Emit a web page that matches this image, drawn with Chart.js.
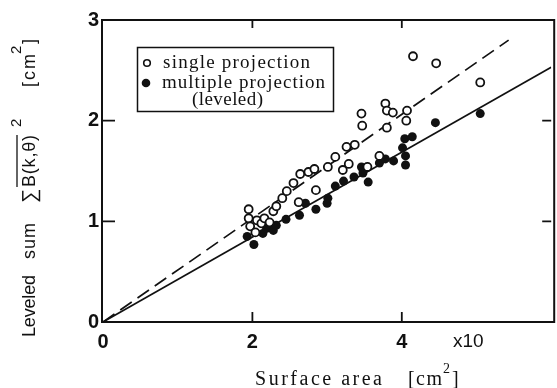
<!DOCTYPE html>
<html><head><meta charset="utf-8">
<script src="https://cdn.jsdelivr.net/npm/chart.js@4.4.1/dist/chart.umd.min.js"></script>
<style>html,body{margin:0;padding:0;background:#fff;overflow:hidden}#wrap{width:557px;height:388px}</style>
</head><body><div id="wrap"><canvas id="c" width="557" height="388"></canvas></div>
<script>
// ---- data ----
const singleX = [1.95,1.95,1.97,2.04,2.06,2.12,2.16,2.23,2.28,2.32,2.40,2.46,2.55,2.64,2.75,2.83,3.01,2.85,2.62,3.11,3.21,3.29,3.26,3.37,3.46,3.47,3.54,3.70,3.78,3.80,3.88,3.80,4.07,4.06,4.15,4.46,5.05];
const singleY = [1.12,1.03,0.95,0.89,1.01,0.98,1.03,0.99,1.10,1.15,1.23,1.30,1.38,1.47,1.49,1.52,1.54,1.31,1.19,1.64,1.51,1.57,1.74,1.76,2.07,1.95,1.54,1.65,2.17,2.10,2.08,1.93,2.10,2.00,2.64,2.57,2.38];
const multiX = [1.93,2.02,2.14,2.19,2.28,2.32,2.45,2.63,2.71,2.85,3.00,3.01,3.11,3.22,3.36,3.46,3.48,3.55,3.70,3.78,3.89,4.01,4.04,4.14,4.05,4.05,4.45,5.05];
const multiY = [0.85,0.77,0.88,0.93,0.91,0.96,1.02,1.06,1.18,1.12,1.18,1.23,1.35,1.40,1.44,1.54,1.48,1.39,1.58,1.62,1.60,1.73,1.82,1.84,1.65,1.56,1.98,2.07];
const singleFitX = [0, 5.43];
const singleFitY = [0, 2.80];
const multiFitX = [0, 6.0];
const multiFitY = [0, 2.53];
const xTicks = [0, 2, 4];
const yTicks = [0, 1, 2, 3];
const legendLabels = ['single projection', 'multiple projection', '(leveled)'];
const xTitle = 'Surface area';
const xUnit = '[cm';
const xMultiplier = 'x10';

const pts = (xs, ys) => xs.map((v, i) => ({x: v, y: ys[i]}));

const SERIF = "'Liberation Serif', 'DejaVu Serif', serif";
const SANS = "'Liberation Sans', Arial, sans-serif";

function fitText(ctx, text, x, y, width) {
  ctx.letterSpacing = '0px';
  const w = ctx.measureText(text).width;
  const n = text.length;
  const ls = n > 1 ? (width - w) / (n - 1) : 0;
  ctx.letterSpacing = ls + 'px';
  ctx.fillText(text, x, y);
  ctx.letterSpacing = '0px';
}

const decor = {
  id: 'decor',
  afterDraw(chart) {
    const {ctx, chartArea: a, scales: {x, y}} = chart;
    ctx.save();
    ctx.strokeStyle = '#111';
    ctx.fillStyle = '#111';
    // frame
    ctx.lineWidth = 2;
    ctx.strokeRect(a.left - 1, a.top, a.right - a.left + 4, a.bottom - a.top);
    // inward ticks
    ctx.lineWidth = 1.8;
    ctx.beginPath();
    xTicks.forEach(v => {
      if (v === 0) return;
      const px = x.getPixelForValue(v);
      ctx.moveTo(px, a.bottom); ctx.lineTo(px, a.bottom - 10);
      ctx.moveTo(px, a.top); ctx.lineTo(px, a.top + 8);
    });
    yTicks.forEach(v => {
      if (v === 0 || v === 3) return;
      const py = y.getPixelForValue(v);
      ctx.moveTo(a.left, py); ctx.lineTo(a.left + 12, py);
      ctx.moveTo(a.right, py); ctx.lineTo(a.right - 9, py);
    });
    ctx.stroke();

    // x multiplier
    ctx.font = '19px ' + SANS;
    ctx.textBaseline = 'alphabetic';
    ctx.textAlign = 'left';
    ctx.fillText(xMultiplier, 453, 347);

    // legend box
    ctx.lineWidth = 1.5;
    ctx.strokeRect(137.5, 47.5, 196, 64);
    ctx.beginPath();
    ctx.arc(147, 63, 3.3, 0, Math.PI * 2);
    ctx.lineWidth = 1.6;
    ctx.stroke();
    ctx.beginPath();
    ctx.arc(146, 83, 4.3, 0, Math.PI * 2);
    ctx.fill();
    ctx.font = '19px ' + SERIF;
    fitText(ctx, legendLabels[0], 163, 68, 147);
    fitText(ctx, legendLabels[1], 162, 88, 163);
    fitText(ctx, legendLabels[2], 192, 105, 71);

    // x axis title
    ctx.font = '20px ' + SERIF;
    fitText(ctx, xTitle, 255, 385, 127);
    fitText(ctx, xUnit, 408, 385, 34);
    ctx.font = '14px ' + SERIF;
    ctx.fillText('2', 443, 373);
    ctx.font = '20px ' + SERIF;
    ctx.fillText(']', 452, 385);

    // y axis title (rotated)
    ctx.save();
    ctx.translate(35, 337);
    ctx.rotate(-Math.PI / 2);
    ctx.font = '18px ' + SANS;
    fitText(ctx, 'Leveled', 0, 0, 62);
    fitText(ctx, 'sum', 78, 0, 36);
    ctx.font = '20px ' + SANS;
    ctx.fillText('\u2211', 134, 1);
    ctx.font = '18px ' + SANS;
    fitText(ctx, 'B(k,\u03B8)', 150, 0, 52);
    ctx.lineWidth = 1.3;
    ctx.beginPath();
    ctx.moveTo(150, -18); ctx.lineTo(202, -18);
    ctx.stroke();
    ctx.font = '15px ' + SANS;
    ctx.fillText('2', 210, -14);
    ctx.font = '18px ' + SANS;
    fitText(ctx, '[cm', 250, 0, 33);
    ctx.font = '15px ' + SANS;
    ctx.fillText('2', 283, -14);
    ctx.font = '18px ' + SANS;
    ctx.fillText(']', 293, 0);
    ctx.restore();

    ctx.restore();
  }
};

new Chart(document.getElementById('c'), {
  type: 'scatter',
  data: {
    datasets: [
      {
        label: legendLabels[0],
        data: pts(singleX, singleY),
        pointRadius: 4,
        pointBorderWidth: 1.8,
        pointBackgroundColor: '#fff',
        pointBorderColor: '#111',
        showLine: false
      },
      {
        label: legendLabels[1],
        data: pts(multiX, multiY),
        pointRadius: 4.5,
        pointBorderWidth: 0,
        pointBackgroundColor: '#111',
        pointBorderColor: '#111',
        showLine: false
      },
      {
        label: 'single fit',
        data: pts(singleFitX, singleFitY),
        showLine: true,
        borderColor: '#111',
        borderWidth: 1.7,
        borderDash: [14, 7],
        pointRadius: 0,
        fill: false
      },
      {
        label: 'multiple fit',
        data: pts(multiFitX, multiFitY),
        showLine: true,
        borderColor: '#111',
        borderWidth: 1.7,
        pointRadius: 0,
        fill: false
      }
    ]
  },
  options: {
    responsive: false,
    animation: false,
    devicePixelRatio: 1,
    layout: {padding: {top: 20, left: 0, right: 0, bottom: 0}},
    plugins: {legend: {display: false}, tooltip: {enabled: false}},
    scales: {
      x: {
        type: 'linear', min: 0, max: 6,
        afterBuildTicks: s => { s.ticks = xTicks.map(v => ({value: v})); },
        afterFit: s => { s.height = 66; },
        grid: {display: false, drawTicks: false},
        border: {display: false},
        ticks: {font: {family: SANS, size: 20, weight: 'bold'}, color: '#111', padding: 8, maxRotation: 0}
      },
      y: {
        type: 'linear', min: 0, max: 3,
        afterBuildTicks: s => { s.ticks = yTicks.map(v => ({value: v})); },
        afterFit: s => { s.width = 103; },
        grid: {display: false, drawTicks: false},
        border: {display: false},
        ticks: {font: {family: SANS, size: 20, weight: 'bold'}, color: '#111', padding: 4}
      }
    }
  },
  plugins: [decor]
});
</script>
</body></html>
